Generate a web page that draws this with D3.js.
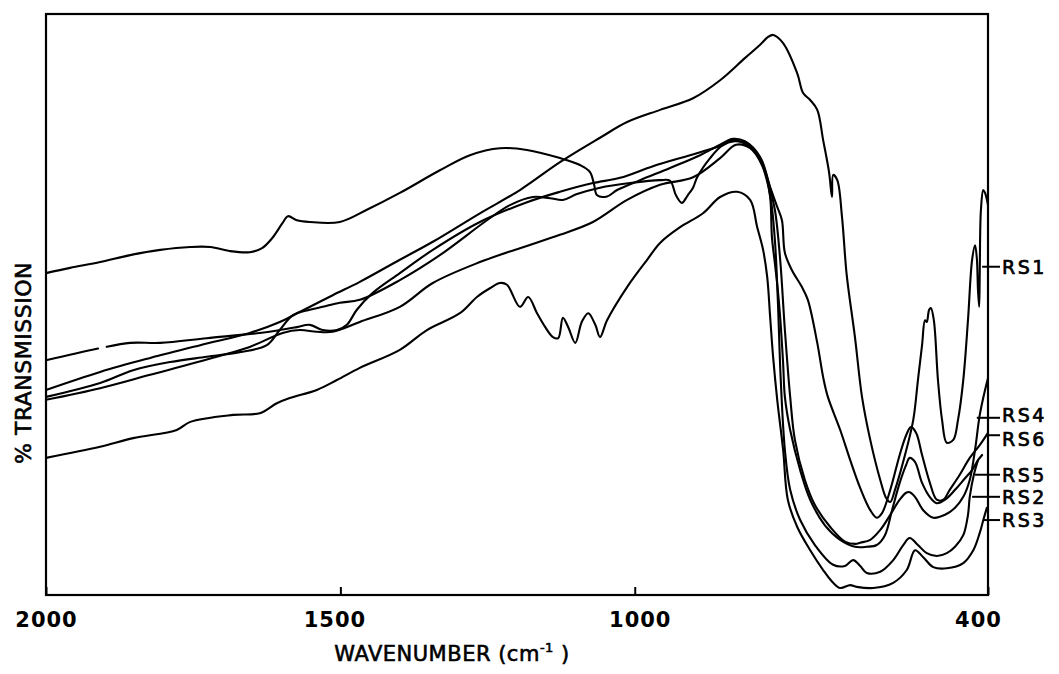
<!DOCTYPE html>
<html>
<head>
<meta charset="utf-8">
<script src="https://cdn.jsdelivr.net/npm/d3@7/dist/d3.min.js"></script>
<style>
  html, body { margin: 0; padding: 0; background: #fff; }
  svg { display: block; }
  text { font-family: "DejaVu Sans", sans-serif; fill: #000; }
</style>
</head>
<body>
<svg id="chart" width="1059" height="674"></svg>
<script>
// Wavenumber (cm-1) and % transmission
const xTicks = [2000, 1500, 1000, 400];

const rs1 = [[2000,35.3],[1908,38.4],[1823,40.8],[1738,43.0],[1654,45.1],[1603,47.0],[1569,48.7],[1513,51.6],[1467,53.9],[1399,57.7],[1343,60.8],[1263,65.7],[1195,69.7],[1127,74.5],[1059,78.7],[1013,81.4],[957,83.5],[901,85.5],[855,88.6],[813,92.4],[787,94.7],[774,96.0],[765,96.4],[748,95.0],[724,89.8],[714,86.4],[702,85.2],[690,83.5],[680,78.3],[670,72.8],[665,68.5],[663,72.3],[656,71.4],[648,65.1],[640,55.1],[626,44.4],[614,34.1],[600,26.7],[583,19.8],[573,16.7],[566,16.0],[558,18.1],[541,24.1],[527,30.1],[519,37.0],[512,43.0],[507,47.3],[504,47.0],[500,49.1],[497,49.4],[492,47.3],[485,37.0],[478,30.1],[470,26.2],[459,26.7],[451,30.1],[442,37.0],[434,47.3],[427,57.7],[422,60.2],[419,58.0],[417,52.5],[415,49.6],[414,55.9],[412,66.3],[408,69.7],[405,69.2],[400,67.1]];

const rs6 = [[2000,55.4],[1959,56.3],[1908,57.3],[1857,58.5],[1806,59.4],[1755,59.9],[1721,59.9],[1688,59.2],[1654,59.0],[1633,59.7],[1616,61.4],[1599,63.9],[1589,65.2],[1574,64.5],[1552,64.2],[1501,64.2],[1455,66.3],[1399,69.2],[1331,73.1],[1280,75.7],[1229,76.9],[1183,76.6],[1127,75.2],[1093,74.0],[1076,72.8],[1069,70.6],[1064,68.8],[1047,68.6],[1030,69.7],[991,71.4],[940,73.5],[889,75.7],[855,77.5],[833,78.5],[813,78.1],[787,75.4],[770,70.2],[758,66.8],[750,64.5],[745,58.9],[733,55.9],[716,53.0],[706,50.8],[690,43.4],[680,37.5],[672,34.1],[651,28.4],[634,23.2],[617,18.4],[600,14.6],[589,13.3],[580,14.1],[566,18.1],[550,24.1],[539,27.5],[531,28.9],[522,27.9],[512,24.1],[499,19.4],[487,16.4],[476,16.4],[465,18.1],[448,20.7],[431,23.6],[414,25.8],[400,27.9]];

const rs5 = [[2000,40.4],[1908,42.5],[1857,43.4],[1806,43.4],[1727,44.2],[1637,45.1],[1603,45.6],[1574,46.1],[1552,46.5],[1530,45.6],[1506,45.6],[1489,46.5],[1472,49.1],[1445,52.0],[1399,55.4],[1343,59.4],[1263,64.2],[1183,67.6],[1127,69.4],[1071,70.9],[1025,71.8],[969,73.8],[906,75.7],[855,77.3],[830,78.3],[799,76.6],[779,73.1],[770,68.5],[767,61.6],[762,57.1],[757,52.5],[753,47.8],[748,39.9],[745,34.1],[736,28.4],[719,21.5],[702,16.4],[677,12.0],[651,9.5],[626,8.3],[606,8.3],[589,8.6],[575,10.3],[563,14.6],[550,19.3],[539,22.4],[533,23.6],[524,22.9],[512,19.3],[499,16.9],[487,15.8],[473,16.4],[456,18.1],[439,20.1],[427,21.5],[417,23.2],[410,24.1]];

const rs4 = [[2000,34.1],[1908,36.5],[1852,38.7],[1789,40.1],[1727,41.0],[1671,41.8],[1625,43.0],[1603,45.6],[1580,48.2],[1552,49.1],[1530,49.6],[1501,50.3],[1467,50.8],[1399,54.2],[1331,58.5],[1251,64.5],[1212,67.1],[1173,68.5],[1144,68.3],[1122,68.0],[1098,69.0],[1059,70.1],[1008,70.9],[957,71.4],[940,71.3],[930,68.8],[920,67.5],[910,68.8],[901,70.1],[894,71.9],[872,75.2],[852,77.3],[830,78.1],[808,77.6],[791,75.7],[774,71.4],[762,66.3],[753,57.7],[745,45.6],[736,34.1],[728,26.7],[711,19.8],[694,15.5],[668,11.7],[643,9.2],[625,8.8],[617,9.0],[600,9.5],[583,11.2],[566,13.8],[550,16.4],[539,17.6],[533,17.7],[524,16.9],[510,14.6],[493,13.3],[473,13.8],[456,15.0],[442,16.9],[431,19.8],[422,25.0],[414,31.0],[405,35.3],[400,37.3]];

const rs2 = [[2000,33.6],[1908,35.6],[1823,37.9],[1710,41.0],[1654,42.7],[1598,45.1],[1569,45.6],[1540,45.3],[1513,45.3],[1467,47.0],[1399,49.6],[1343,53.7],[1263,57.3],[1195,59.7],[1127,62.0],[1071,64.2],[1013,68.0],[957,70.6],[901,71.9],[855,75.2],[828,77.5],[804,76.9],[784,74.0],[770,68.8],[762,61.1],[757,50.8],[752,37.0],[745,25.0],[736,18.1],[719,12.9],[694,8.6],[663,5.2],[643,5.0],[629,6.0],[617,5.0],[606,3.8],[583,4.0],[561,6.0],[544,8.6],[533,9.8],[519,8.6],[504,7.2],[487,6.7],[470,7.2],[456,8.3],[442,10.3],[434,13.8],[431,16.9],[424,20.7],[417,23.2]];

const rs3 = [[2000,23.6],[1908,25.5],[1852,27.0],[1778,28.4],[1755,29.8],[1682,31.0],[1637,31.3],[1608,33.0],[1586,33.9],[1540,35.3],[1506,37.0],[1467,39.1],[1399,42.2],[1353,45.6],[1297,48.5],[1268,51.3],[1246,52.8],[1229,53.7],[1217,53.4],[1195,49.6],[1181,51.3],[1166,48.5],[1152,46.1],[1139,44.4],[1130,44.2],[1122,47.7],[1113,46.1],[1101,43.4],[1090,47.0],[1079,48.5],[1067,46.5],[1059,44.4],[1047,47.3],[1013,53.0],[979,57.7],[957,60.6],[923,63.3],[884,65.7],[855,68.5],[826,69.4],[804,68.0],[792,63.3],[782,59.4],[775,54.7],[770,47.8],[765,41.0],[758,33.6],[748,25.0],[740,16.4],[724,11.7],[702,7.7],[680,4.3],[663,2.1],[651,1.2],[634,1.7],[623,1.4],[595,1.2],[561,2.1],[538,4.3],[524,7.7],[510,6.5],[493,4.8],[470,4.6],[442,5.5],[425,7.7],[414,10.7],[408,12.9],[402,15.0]];

const seriesNames = ["RS1", "RS2", "RS3", "RS4", "RS5", "RS6"];
const seriesData  = [rs1, rs2, rs3, rs4, rs5, rs6];
// label leaders: wavenumber where the leader touches the curve, transmission level of the leader
const labelW = [410, 427, 408, 419, 422, 402];
const labelT = [56.5, 16.9, 12.9, 30.5, 20.7, 27.5];

const svg = d3.select("#chart");
const mLeft = 46, mRight = 988, mTop = 14, mBottom = 595;

const x = d3.scaleLinear().domain([2000, 400]).range([mLeft, mRight]);
const y = d3.scaleLinear().domain([0, 100]).range([mBottom, mTop]);

const line = d3.line()
  .x(d => x(d[0]))
  .y(d => y(d[1]))
  .curve(d3.curveCatmullRom.alpha(0.5));

// spectra
const paths = svg.append("g")
  .selectAll("path")
  .data(seriesData)
  .join("path")
  .attr("d", line)
  .attr("fill", "none")
  .attr("stroke", "#000")
  .attr("stroke-width", 2.1)
  .attr("stroke-linejoin", "round")
  .attr("stroke-linecap", "round");

// the pen skipped briefly on the RS5 trace near 1910 cm-1
paths.filter(d => d === rs5).each(function () {
  const total = this.getTotalLength();
  let lo = 0, hi = total;
  const target = x(1912);
  for (let k = 0; k < 40; k++) {
    const mid = (lo + hi) / 2;
    if (this.getPointAtLength(mid).x < target) lo = mid; else hi = mid;
  }
  d3.select(this).attr("stroke-dasharray", `${lo} 9 ${total}`);
});

// frame
svg.append("rect")
  .attr("x", mLeft).attr("y", mTop)
  .attr("width", mRight - mLeft).attr("height", mBottom - mTop)
  .attr("fill", "none").attr("stroke", "#000").attr("stroke-width", 2.2);

// bottom axis with inward ticks
const xAxis = d3.axisBottom(x).tickValues(xTicks).tickSize(-8).tickPadding(17).tickFormat(d3.format("d"));
const gx = svg.append("g").attr("transform", `translate(0,${mBottom})`).call(xAxis);
gx.select(".domain").remove();
gx.selectAll(".tick line").attr("stroke", "#000").attr("stroke-width", 2);
gx.selectAll(".tick text")
  .attr("font-family", "DejaVu Sans, sans-serif")
  .attr("font-size", 21)
  .attr("font-weight", "bold")
  .attr("letter-spacing", 1)
  .attr("fill", "#000");
gx.selectAll(".tick").filter(d => d === 400).select("text").attr("dx", -10);
gx.selectAll(".tick").filter(d => d === 1500).select("text").attr("dx", -6);
gx.selectAll(".tick").filter(d => d === 1000).select("text").attr("dx", 5);

// axis titles
const xt = svg.append("text")
  .attr("x", 452).attr("y", 661)
  .attr("text-anchor", "middle")
  .attr("font-size", 21)
  .attr("letter-spacing", 0.5)
  .attr("stroke", "#000").attr("stroke-width", 0.6);
xt.append("tspan").text("WAVENUMBER (cm");
xt.append("tspan").text("-1").attr("font-size", 13).attr("dy", -9);
xt.append("tspan").text(" )").attr("dy", 9);

svg.append("text")
  .attr("transform", "translate(31,363) rotate(-90)")
  .attr("text-anchor", "middle")
  .attr("font-size", 22)
  .attr("letter-spacing", 0.5)
  .attr("stroke", "#000").attr("stroke-width", 0.6)
  .text("% TRANSMISSION");

// series labels with leader lines (text nudged apart where leaders are close)
const textNudge = { RS4: -3, RS6: 4 };
const lab = svg.append("g");
seriesNames.forEach((name, i) => {
  const yy = y(labelT[i]);
  lab.append("line")
    .attr("x1", x(labelW[i])).attr("x2", mRight + 12)
    .attr("y1", yy).attr("y2", yy)
    .attr("stroke", "#000").attr("stroke-width", 2);
  lab.append("text")
    .attr("x", mRight + 14).attr("y", yy + (textNudge[name] || 0))
    .attr("dominant-baseline", "central")
    .attr("font-size", 19)
    .attr("letter-spacing", 2.5)
    .attr("stroke", "#000").attr("stroke-width", 0.7)
    .text(name);
});
</script>
</body>
</html>
